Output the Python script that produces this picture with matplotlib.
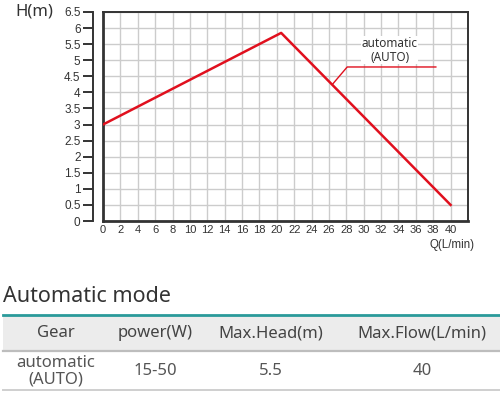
import matplotlib.pyplot as plt
from matplotlib.lines import Line2D

# pump curve (automatic mode)
flow_q = [0, 20.5, 40]
head_h = [3.0, 5.85, 0.5]

x_ticks = list(range(0, 41, 2))
y_ticks = [0, 0.5, 1, 1.5, 2, 2.5, 3, 3.5, 4, 4.5, 5, 5.5, 6, 6.5]

curve_label = "automatic\n(AUTO)"

# table
table_title = "Automatic mode"
columns = ["Gear", "power(W)", "Max.Head(m)", "Max.Flow(L/min)"]
row_values = ["automatic\n(AUTO)", "15-50", "5.5", "40"]

RED = "#e0101e"
DARK = "#333333"
GRID = "#cccccc"

fig = plt.figure(figsize=(5.0, 3.93), dpi=100)
W, H = 500, 393

# chart area in pixel coords
left, right, top, bottom = 103, 468, 12, 221
ax = fig.add_axes([left / W, 1 - bottom / H, (right - left) / W, (bottom - top) / H])
ax.set_xlim(0, 42)
ax.set_ylim(0, 6.5)
ax.set_xticks(x_ticks)
ax.set_xticklabels([str(t) for t in x_ticks], fontsize=8, color=DARK,
                   family="Liberation Sans")
ax.set_yticks(y_ticks)
ax.tick_params(axis="x", length=0, pad=3)
ax.tick_params(axis="y", length=0, labelleft=False)
ax.grid(True, color=GRID, lw=1, zorder=0)
ax.set_axisbelow(True)
for name, sp in ax.spines.items():
    sp.set_color(DARK)
    sp.set_linewidth(2.0 if name in ("left", "bottom") else 1.4)

# offset y axis with ticks
sec = ax.secondary_yaxis(-10 / (right - left))
sec.set_yticks(y_ticks)
sec.set_yticklabels([f"{t:g}" for t in y_ticks], fontsize=8.5, color=DARK,
                    family="Liberation Sans")
sec.tick_params(axis="y", length=7, width=1.4, color=DARK, pad=2)
sec.spines["left"].set_color(DARK)
sec.spines["left"].set_linewidth(1.4)

ax.plot(flow_q, head_h, color=RED, lw=1.8, zorder=3)

# leader line and label
ax.plot([26.4, 28.1, 38.3], [4.25, 4.79, 4.79], color=RED, lw=1, zorder=3)
ax.text(33.0, 5.31, curve_label, ha="center", va="center", fontsize=8.5,
        color=DARK, linespacing=1.15, family="Noto Sans",
        bbox=dict(facecolor="white", edgecolor="none", pad=0.3), zorder=4)

fig.text(474 / W, 1 - 245 / H, "Q(L/min)", ha="right", va="center", fontsize=8.3,
         color=DARK, family="Liberation Sans")
fig.text(15 / W, 1 - 11 / H, "H(m)", ha="left", va="center", fontsize=12,
         color=DARK, family="Noto Sans")

# table drawn in pixel coords
tax = fig.add_axes([0, 0, 1, 1])
tax.set_xlim(0, W)
tax.set_ylim(H, 0)
tax.axis("off")
tax.patch.set_alpha(0)

tax.text(3, 296, table_title, ha="left", va="center", fontsize=15.5,
         color=DARK, family="Noto Sans")
tax.axhspan(315, 351, xmin=3 / W, xmax=1, color="#ececec", lw=0)
tax.add_line(Line2D([3, W], [315, 315], color="#2a9a9a", lw=2))
tax.add_line(Line2D([3, W], [351, 351], color="#bdbdbd", lw=1.6))
tax.add_line(Line2D([3, W], [390, 390], color="#cfcfcf", lw=1.4))

col_x = [56, 155, 271, 422]
for cx, head, val in zip(col_x, columns, row_values):
    tax.text(cx, 333, head, ha="center", va="center", fontsize=12,
             color="#444444", family="Noto Sans")
    tax.text(cx, 371, val, ha="center", va="center", fontsize=12,
             color="#555555", family="Noto Sans", linespacing=1.0)

fig.savefig("out.png", dpi=100)
